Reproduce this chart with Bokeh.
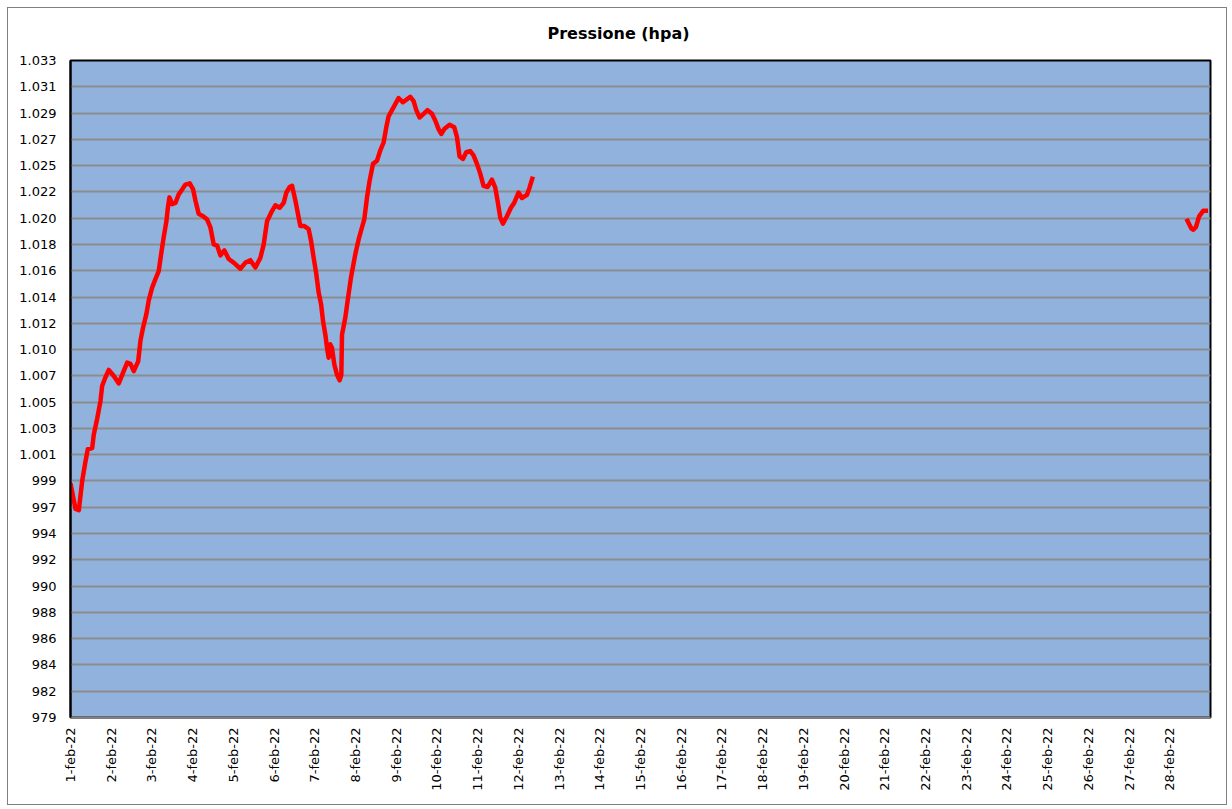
from math import pi
from bokeh.plotting import figure
from bokeh.models import Range1d, FixedTicker
from bokeh.embed import file_html
from bokeh.resources import INLINE

# --- data (day offset from 1-feb-22 00:00, pressure hPa) ---
seg1_days = [0.000, 0.123, 0.204, 0.287, 0.368, 0.425, 0.533, 0.572, 0.655, 0.736,
             0.778, 0.859, 0.940, 1.063, 1.186, 1.269, 1.392, 1.473, 1.554, 1.662,
             1.718, 1.784, 1.865, 1.922, 2.005, 2.086, 2.167, 2.226, 2.290, 2.356,
             2.388, 2.430, 2.496, 2.577, 2.658, 2.742, 2.823, 2.928, 3.012, 3.068,
             3.149, 3.257, 3.355, 3.436, 3.517, 3.601, 3.682, 3.780, 3.886, 4.008,
             4.173, 4.296, 4.418, 4.541, 4.664, 4.745, 4.828, 4.951, 5.032, 5.137,
             5.236, 5.302, 5.383, 5.442, 5.523, 5.604, 5.646, 5.744, 5.849, 5.908,
             5.972, 6.038, 6.095, 6.154, 6.203, 6.259, 6.301, 6.340, 6.382, 6.423,
             6.480, 6.546, 6.610, 6.652, 6.669, 6.750, 6.806, 6.890, 6.996, 7.077,
             7.160, 7.216, 7.283, 7.346, 7.430, 7.528, 7.609, 7.690, 7.756, 7.813,
             7.896, 7.977, 8.058, 8.166, 8.265, 8.346, 8.427, 8.493, 8.574, 8.672,
             8.770, 8.878, 8.959, 9.040, 9.106, 9.180, 9.310, 9.426, 9.492, 9.556,
             9.639, 9.720, 9.818, 9.899, 9.983, 10.064, 10.145, 10.243, 10.351, 10.432,
             10.488, 10.555, 10.621, 10.719, 10.817, 10.898, 11.004, 11.087, 11.210, 11.274,
             11.357]
seg1_hpa = [998.6, 996.5, 996.4, 998.8, 1000.4, 1001.4, 1001.5, 1002.6, 1003.9, 1005.35,
            1006.6, 1007.3, 1007.9, 1007.4, 1006.8, 1007.5, 1008.5, 1008.4, 1007.8, 1008.6,
            1010.3, 1011.4, 1012.5, 1013.6, 1014.65, 1015.35, 1016.0, 1017.4, 1018.8, 1020.1,
            1021.1, 1022.05, 1021.5, 1021.6, 1022.3, 1022.7, 1023.1, 1023.2, 1022.7, 1021.8,
            1020.7, 1020.5, 1020.25, 1019.6, 1018.2, 1018.1, 1017.3, 1017.7, 1017.0, 1016.7,
            1016.2, 1016.7, 1016.9, 1016.3, 1017.1, 1018.2, 1020.1, 1020.95, 1021.4, 1021.2,
            1021.6, 1022.45, 1022.9, 1023.0, 1021.8, 1020.4, 1019.7, 1019.7, 1019.45, 1018.5,
            1017.1, 1015.75, 1014.25, 1013.3, 1011.9, 1010.8, 1009.7, 1008.9, 1010.0, 1009.7,
            1008.35, 1007.5, 1007.05, 1007.5, 1010.8, 1012.2, 1013.55, 1015.5, 1017.4, 1018.6,
            1019.6, 1020.25, 1022.05, 1023.4, 1024.8, 1025.05, 1025.9, 1026.55, 1027.8, 1028.7,
            1029.2, 1029.7, 1030.2, 1029.85, 1030.1, 1030.3, 1029.95, 1029.2, 1028.6, 1028.9,
            1029.2, 1028.9, 1028.35, 1027.65, 1027.25, 1027.65, 1028.0, 1027.8, 1027.0, 1025.4,
            1025.2, 1025.75, 1025.85, 1025.5, 1024.8, 1024.0, 1023.0, 1022.9, 1023.5, 1022.85,
            1021.8, 1020.4, 1019.9, 1020.5, 1021.2, 1021.6, 1022.45, 1022.0, 1022.25, 1022.85,
            1023.75]

seg2_days = [27.41, 27.53, 27.58, 27.64, 27.72, 27.82, 27.94]
seg2_hpa = [1020.3, 1019.5, 1019.4, 1019.6, 1020.5, 1020.95, 1020.95]

day_labels = ["%d-feb-22" % d for d in range(1, 29)]
y_labels = ["979", "982", "984", "986", "988", "990", "992", "994", "997", "999",
            "1.001", "1.003", "1.005", "1.007", "1.010", "1.012", "1.014", "1.016",
            "1.018", "1.020", "1.022", "1.025", "1.027", "1.029", "1.031", "1.033"]
Y_MIN, Y_MAX = 979.4, 1033.275
X_MIN, X_MAX = 0, 28
title_text = "Pressione (hpa)"

FONT = "DejaVu Sans"

p = figure(width=1220, height=798, output_backend="svg", toolbar_location=None,
           x_range=Range1d(X_MIN, X_MAX), y_range=Range1d(Y_MIN, Y_MAX),
           min_border_left=62, min_border_right=18, min_border_top=51, min_border_bottom=89,
           title=title_text,
           styles={"border": "1px solid #808080", "margin-left": "7px", "margin-top": "7px"})

p.background_fill_color = "#92B2DE"
p.border_fill_color = "white"
p.outline_line_color = "black"
p.outline_line_width = 2

p.title.text_font = FONT
p.title.text_font_size = "16px"
p.title.text_font_style = "bold"
p.title.text_color = "black"
p.title.align = "left"
p.title.vertical_align = "top"
p.title.offset = 477
p.title.standoff = 31

n = len(y_labels)
step = (Y_MAX - Y_MIN) / (n - 1)
yticks = [Y_MIN + i * step for i in range(n)]
p.yaxis.ticker = FixedTicker(ticks=yticks)
p.yaxis.major_label_overrides = {t: lab for t, lab in zip(yticks, y_labels)}
p.yaxis.major_label_text_font = FONT
p.yaxis.major_label_text_font_size = "13px"
p.yaxis.major_label_text_color = "black"
p.yaxis.major_tick_line_color = None
p.yaxis.minor_tick_line_color = None
p.yaxis.major_tick_out = 0
p.yaxis.major_tick_in = 0
p.yaxis.major_label_standoff = 14
p.yaxis.axis_line_color = "black"
p.yaxis.axis_line_width = 2

xticks = list(range(len(day_labels)))
p.xaxis.ticker = FixedTicker(ticks=xticks)
p.xaxis.major_label_overrides = {t: lab for t, lab in zip(xticks, day_labels)}
p.xaxis.major_label_orientation = pi / 2
p.xaxis.major_label_text_font = FONT
p.xaxis.major_label_text_font_size = "13px"
p.xaxis.major_label_text_color = "black"
p.xaxis.major_tick_line_color = None
p.xaxis.minor_tick_line_color = None
p.xaxis.major_tick_out = 0
p.xaxis.major_tick_in = 0
p.xaxis.major_label_standoff = 10
p.xaxis.axis_line_color = "#808080"
p.xaxis.axis_line_width = 2

p.xgrid.grid_line_color = None
p.ygrid.grid_line_color = "#8C8C8C"
p.ygrid.grid_line_width = 2

p.line(seg1_days, seg1_hpa, line_color="#FF0000", line_width=4.5, line_join="round")
p.line(seg2_days, seg2_hpa, line_color="#FF0000", line_width=4.5, line_join="round")

open("out.html", "w").write(file_html(p, INLINE))
